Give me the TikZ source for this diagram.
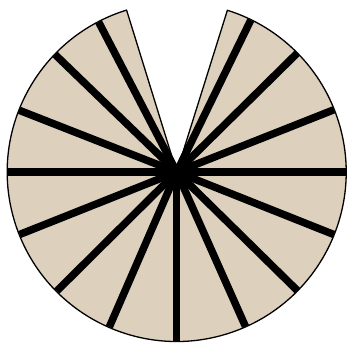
\documentclass[tikz,border=0pt]{standalone}
\begin{document}
\begin{tikzpicture}[x=1pt,y=1pt,
  pie/.style={fill={rgb,255:red,221;green,209;blue,189}, draw=black, line width=1.3pt, line join=round},
  spoke/.style={draw=black, line width=7.5pt}]
\useasboundingbox (0,0) rectangle (347,344);
\coordinate (c) at (176.7,172);
\def\r{169.5}
\path[pie] (c) -- ++(107.2:\r) arc[start angle=107.2, end angle=432.6, radius=\r] -- cycle;
\foreach \a in {0,21.6,44.6,64,117.5,136,158.6,180,201.7,224.8,246.5,270,294,315.5,338.3}
  \draw[spoke] (c) -- ++(\a:\r-0.5);
\end{tikzpicture}
\end{document}
